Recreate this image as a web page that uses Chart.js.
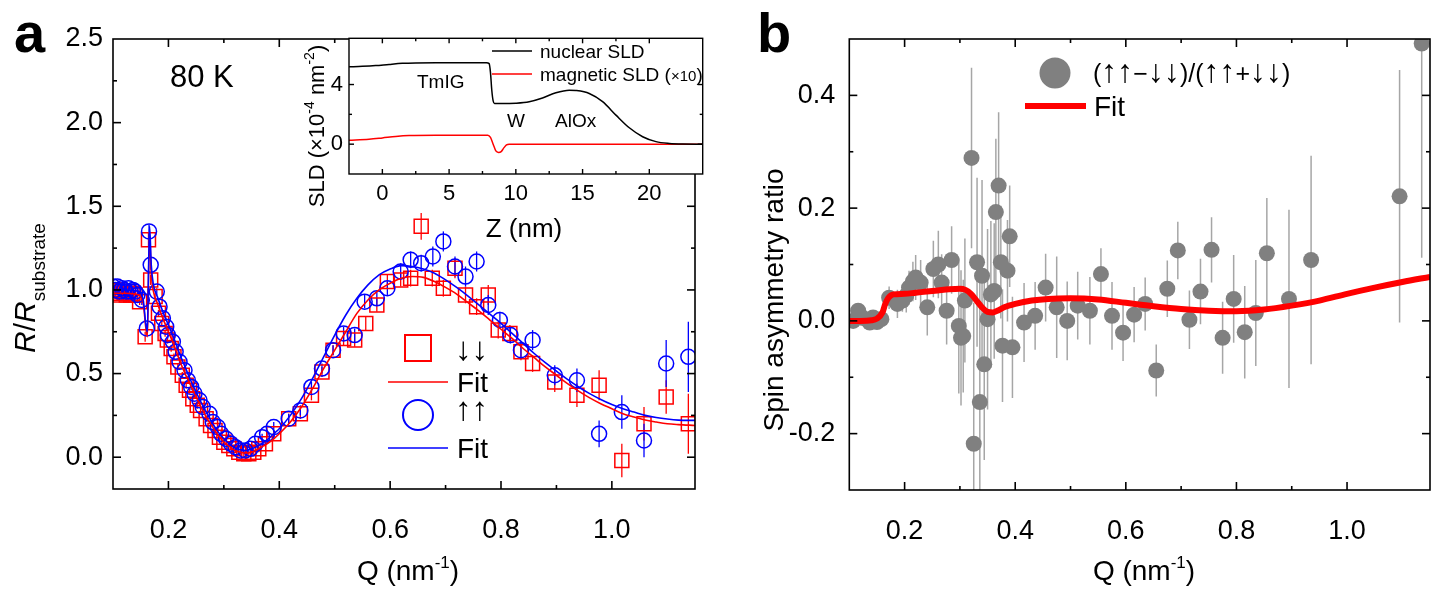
<!DOCTYPE html>
<html lang="en">
<head>
<meta charset="UTF-8">
<title>PNR of TmIG/W/AlOx at 80 K</title>
<script src="https://cdn.jsdelivr.net/npm/chart.js"></script>
<style>
  body { margin: 0; background: #fff; }
  #wrap { position: relative; width: 1455px; height: 594px; overflow: hidden; background: #fff; }
  canvas { position: absolute; }
</style>
</head>
<body>
<div id="wrap">
  <canvas id="chartA" width="720" height="594" style="left:0;top:0;width:720px;height:594px"></canvas>
  <canvas id="chartB" width="725" height="594" style="left:730px;top:0;width:725px;height:594px"></canvas>
  <canvas id="inset" width="420" height="232" style="left:290px;top:18px;width:420px;height:232px"></canvas>
</div>
<script>
// ---- panel a: R/R_substrate vs Q ----
const qDown = [0.100,0.104,0.108,0.112,0.116,0.120,0.124,0.128,0.132,0.136,0.140,0.148,0.158,0.164,0.168,
  0.176,0.182,0.188,0.194,0.198,0.205,0.210,0.217,0.225,0.232,0.238,0.244,0.252,0.258,0.268,0.276,0.284,0.292,
  0.300,0.309,0.318,0.327,0.336,0.345,0.354,0.363,0.375,0.390,0.417,0.438,0.458,0.477,0.497,0.516,0.536,0.556,
  0.576,0.595,0.619,0.637,0.656,0.676,0.696,0.717,0.736,0.756,0.777,0.795,0.816,0.836,0.857,0.897,0.937,0.977,
  1.018,1.058,1.098,1.138];
const rDown = [1.00,0.98,1.00,0.97,0.99,0.98,0.97,0.99,0.97,0.98,0.97,0.93,0.72,1.30,1.06,
  0.96,0.86,0.80,0.74,0.70,0.65,0.60,0.54,0.49,0.43,0.40,0.35,0.31,0.28,0.23,0.19,0.16,0.12,
  0.09,0.07,0.05,0.03,0.02,0.02,0.03,0.05,0.08,0.14,0.23,0.26,0.37,0.51,0.64,0.71,0.70,0.80,
  0.91,1.05,1.06,1.07,1.38,1.07,1.01,1.13,0.97,0.90,0.97,0.76,0.74,0.63,0.56,0.45,0.37,0.43,
  -0.02,0.20,0.36,0.20];
const eDown = [0.02,0.02,0.02,0.02,0.02,0.02,0.02,0.02,0.02,0.02,0.02,0.02,0.03,0.04,0.03,
  0.02,0.02,0.02,0.02,0.02,0.02,0.02,0.02,0.02,0.02,0.02,0.02,0.02,0.02,0.02,0.02,0.02,0.02,
  0.02,0.02,0.02,0.02,0.02,0.02,0.02,0.02,0.02,0.02,0.03,0.03,0.03,0.03,0.03,0.04,0.04,0.04,
  0.04,0.04,0.04,0.05,0.08,0.05,0.05,0.06,0.05,0.05,0.06,0.05,0.05,0.05,0.05,0.06,0.07,0.09,
  0.10,0.10,0.10,0.18];

const qUp = [0.100,0.104,0.108,0.112,0.116,0.120,0.124,0.128,0.132,0.136,0.140,0.144,0.152,0.161,0.165,0.168,
  0.179,0.184,0.190,0.196,0.199,0.208,0.213,0.220,0.229,0.235,0.241,0.247,0.256,0.262,0.274,0.280,0.289,0.295,
  0.304,0.313,0.321,0.330,0.339,0.348,0.357,0.369,0.378,0.390,0.417,0.438,0.458,0.477,0.497,0.516,0.536,0.554,
  0.576,0.595,0.619,0.637,0.656,0.677,0.696,0.717,0.736,0.756,0.777,0.798,0.817,0.836,0.857,0.897,0.937,0.977,
  1.018,1.058,1.098,1.138];
const rUp = [1.02,1.00,1.02,0.99,1.01,1.00,0.99,1.01,0.99,1.00,0.99,0.97,0.94,0.77,1.35,1.15,
  0.99,0.90,0.83,0.78,0.73,0.69,0.63,0.57,0.52,0.46,0.42,0.38,0.34,0.30,0.26,0.21,0.18,0.14,
  0.11,0.08,0.06,0.04,0.04,0.05,0.08,0.12,0.14,0.18,0.23,0.28,0.42,0.53,0.64,0.74,0.73,0.93,
  0.95,1.01,1.11,1.18,1.16,1.20,1.29,1.14,1.08,1.17,0.91,0.82,0.73,0.64,0.70,0.49,0.46,0.14,
  0.27,0.10,0.56,0.60];
const eUp = [0.02,0.02,0.02,0.02,0.02,0.02,0.02,0.02,0.02,0.02,0.02,0.02,0.03,0.03,0.04,0.03,
  0.02,0.02,0.02,0.02,0.02,0.02,0.02,0.02,0.02,0.02,0.02,0.02,0.02,0.02,0.02,0.02,0.02,0.02,
  0.02,0.02,0.02,0.02,0.02,0.02,0.02,0.02,0.02,0.03,0.03,0.03,0.03,0.03,0.03,0.04,0.04,0.04,
  0.04,0.04,0.05,0.05,0.05,0.06,0.06,0.06,0.06,0.06,0.06,0.05,0.05,0.05,0.06,0.06,0.07,0.08,
  0.10,0.10,0.14,0.21];

const qFit = [0.100,0.120,0.140,0.150,0.155,0.159,0.162,0.164,0.166,0.169,0.173,0.180,0.190,0.200,0.210,
  0.220,0.230,0.240,0.250,0.260,0.270,0.280,0.290,0.300,0.310,0.320,0.330,0.340,0.350,0.360,0.370,0.380,
  0.390,0.400,0.420,0.440,0.460,0.480,0.500,0.520,0.540,0.560,0.580,0.600,0.620,0.640,0.660,0.680,0.700,
  0.720,0.740,0.760,0.780,0.800,0.820,0.840,0.860,0.880,0.900,0.920,0.940,0.960,0.980,1.000,1.020,1.040,
  1.060,1.080,1.100,1.120,1.150];
const rFitDown = [0.98,0.98,0.975,0.96,0.91,0.78,0.72,1.05,1.33,1.10,0.99,0.92,0.83,0.75,0.67,
  0.58,0.50,0.43,0.36,0.29,0.23,0.18,0.13,0.09,0.065,0.04,0.03,0.025,0.03,0.045,0.065,0.085,
  0.11,0.14,0.21,0.30,0.41,0.53,0.64,0.75,0.86,0.94,1.00,1.04,1.07,1.08,1.075,1.05,1.015,
  0.975,0.925,0.875,0.82,0.765,0.71,0.65,0.595,0.54,0.49,0.44,0.395,0.355,0.32,0.29,0.26,0.24,
  0.222,0.21,0.20,0.195,0.19];
const rFitUp = [1.00,1.00,0.995,0.98,0.93,0.80,0.75,1.10,1.38,1.15,1.03,0.96,0.87,0.79,0.71,
  0.62,0.54,0.46,0.39,0.32,0.26,0.20,0.15,0.11,0.08,0.055,0.045,0.04,0.05,0.065,0.085,0.11,
  0.14,0.17,0.25,0.35,0.47,0.60,0.73,0.85,0.95,1.03,1.09,1.125,1.145,1.14,1.125,1.10,1.06,
  1.015,0.965,0.91,0.855,0.80,0.74,0.68,0.62,0.565,0.515,0.465,0.42,0.38,0.345,0.315,0.29,0.27,
  0.25,0.237,0.228,0.222,0.22];

// ---- inset: SLD depth profile ----
const zNuc = [-2.5,-1.5,-0.5,0.5,1.5,2.5,4,6,7.8,8.0,8.1,8.2,8.3,8.4,9,10,11,12,13,14,14.5,15.5,16.5,17.5,18.5,19.5,20.5,21.5,22.5,24];
const sldNuc = [5.19,5.22,5.27,5.35,5.42,5.45,5.46,5.46,5.46,5.40,4.80,3.60,2.90,2.72,2.72,2.75,2.85,3.10,3.45,3.62,3.60,3.40,2.85,1.95,1.10,0.50,0.17,0.05,0.01,0.00];
const zMag = [-2.5,-1,0,1,2,4,7.9,8.1,8.3,8.5,8.7,8.9,9.1,9.3,9.5,24];
const sldMag = [0.27,0.33,0.42,0.52,0.58,0.60,0.60,0.45,0.0,-0.45,-0.55,-0.50,-0.25,-0.05,0.0,0.0];

// ---- panel b: spin asymmetry ----
const qAsym = [0.107,0.116,0.125,0.137,0.143,0.150,0.158,0.172,0.187,0.196,0.203,0.208,0.215,0.220,0.229,
  0.241,0.252,0.261,0.267,0.276,0.285,0.298,0.302,0.306,0.309,0.321,0.325,0.331,0.336,0.340,0.344,0.350,
  0.356,0.362,0.365,0.370,0.374,0.377,0.386,0.390,0.395,0.416,0.436,0.455,0.475,0.494,0.513,0.535,0.555,
  0.575,0.595,0.615,0.635,0.655,0.675,0.694,0.715,0.735,0.755,0.775,0.795,0.815,0.835,0.855,0.895,0.935,
  1.095,1.135];
const sAsym = [0.000,0.018,0.005,-0.003,0.006,-0.002,0.003,0.041,0.030,0.036,0.045,0.059,0.070,0.077,0.068,
  0.024,0.092,0.100,0.068,0.018,0.108,-0.009,-0.030,-0.027,0.036,0.289,-0.218,0.104,-0.144,0.080,-0.077,0.003,
  0.047,0.053,0.193,0.240,0.104,-0.044,0.089,0.150,-0.047,-0.003,0.009,0.059,0.024,0.000,0.027,0.018,0.083,
  0.009,-0.021,0.011,0.030,-0.088,0.057,0.125,0.002,0.052,0.126,-0.030,0.039,-0.020,0.014,0.120,0.039,0.108,
  0.221,0.492];
const eAsym = [0.010,0.012,0.010,0.010,0.012,0.012,0.015,0.020,0.025,0.020,0.030,0.030,0.035,0.040,0.040,
  0.050,0.050,0.060,0.050,0.060,0.060,0.120,0.120,0.100,0.110,0.160,0.250,0.150,0.220,0.170,0.170,0.160,
  0.130,0.120,0.130,0.130,0.100,0.100,0.090,0.090,0.090,0.070,0.060,0.060,0.090,0.070,0.060,0.060,0.046,
  0.060,0.050,0.049,0.047,0.046,0.050,0.051,0.052,0.058,0.058,0.064,0.078,0.082,0.094,0.098,0.158,0.185,
  0.224,0.380];
const qFitAsym = [0.10,0.12,0.14,0.150,0.160,0.165,0.170,0.175,0.180,0.20,0.22,0.24,0.26,0.28,0.30,0.31,0.32,
  0.33,0.34,0.35,0.36,0.37,0.38,0.40,0.43,0.46,0.50,0.55,0.60,0.65,0.70,0.75,0.80,0.85,0.90,0.95,1.00,1.05,1.10,1.15];
const sFitAsym = [0.000,0.000,0.001,0.004,0.015,0.030,0.040,0.045,0.047,0.048,0.050,0.052,0.054,0.056,0.057,
  0.055,0.048,0.036,0.024,0.016,0.015,0.019,0.024,0.030,0.036,0.039,0.040,0.038,0.032,0.026,0.021,0.018,
  0.017,0.020,0.027,0.036,0.048,0.059,0.069,0.078];

// tick labels
const qTickLabels = ['0.2', '0.4', '0.6', '0.8', '1.0'];
const rTickLabels = ['0.0', '0.5', '1.0', '1.5', '2.0', '2.5'];
const asymTickLabels = ['-0.2', '0.0', '0.2', '0.4'];
const zTickLabels = ['0', '5', '10', '15', '20'];
const sldTickLabels = ['0', '4'];

const pts = (xs, ys) => xs.map((x, i) => ({ x: x, y: ys[i] }));

Chart.defaults.animation = false;
Chart.defaults.color = '#000';
Chart.defaults.font.family = 'Arial, "Liberation Sans", sans-serif';

const FONT = 'Arial, "Liberation Sans", sans-serif';
const tickFont = { family: FONT, size: 27 };

function pick(list, digits) {
  return v => {
    const s = digits == null ? String(Math.round(v * 100) / 100) : v.toFixed(digits);
    return list.includes(s) ? s : '';
  };
}

// vertical error bars, drawn under the markers
const errorBars = {
  id: 'errorBars',
  beforeDatasetsDraw(chart) {
    const { ctx, chartArea: a, scales: { x, y } } = chart;
    ctx.save();
    ctx.beginPath();
    ctx.rect(a.left, a.top, a.right - a.left, a.bottom - a.top);
    ctx.clip();
    chart.data.datasets.forEach(ds => {
      if (!ds.err) return;
      ctx.strokeStyle = ds.errColor || ds.borderColor;
      ctx.lineWidth = ds.errWidth || 1.3;
      ds.data.forEach((p, i) => {
        const px = x.getPixelForValue(p.x);
        ctx.beginPath();
        ctx.moveTo(px, y.getPixelForValue(p.y - ds.err[i]));
        ctx.lineTo(px, y.getPixelForValue(p.y + ds.err[i]));
        ctx.stroke();
      });
    });
    ctx.restore();
  }
};

// closed box with inward ticks on all four sides
function frame(major, minor, lw) {
  return {
    id: 'frame',
    beforeDraw(chart) {
      if (!chart.options.whiteArea) return;
      const { ctx, chartArea: a } = chart;
      ctx.save();
      ctx.fillStyle = '#fff';
      ctx.fillRect(a.left, a.top, a.right - a.left, a.bottom - a.top);
      ctx.restore();
    },
    afterDatasetsDraw(chart) {
      const { ctx, chartArea: a, scales: { x, y } } = chart;
      ctx.save();
      ctx.strokeStyle = '#000';
      ctx.lineWidth = lw;
      const seg = (x1, y1, x2, y2) => { ctx.beginPath(); ctx.moveTo(x1, y1); ctx.lineTo(x2, y2); ctx.stroke(); };
      x.ticks.forEach(t => {
        const px = x.getPixelForValue(t.value);
        if (px < a.left + 1 || px > a.right - 1) return;
        const len = t.label ? major : minor;
        seg(px, a.bottom, px, a.bottom - len);
        seg(px, a.top, px, a.top + len);
      });
      y.ticks.forEach(t => {
        const py = y.getPixelForValue(t.value);
        if (py < a.top + 1 || py > a.bottom - 1) return;
        const len = t.label ? major : minor;
        seg(a.left, py, a.left + len, py);
        seg(a.right, py, a.right - len, py);
      });
      ctx.strokeRect(a.left, a.top, a.right - a.left, a.bottom - a.top);
      ctx.restore();
    }
  };
}

// text made of pieces with their own font and baseline shift, centred on (x, y) unless left
function richText(ctx, parts, x, y, rotate, left) {
  ctx.save();
  ctx.translate(x, y);
  if (rotate) ctx.rotate(-Math.PI / 2);
  ctx.textAlign = 'left';
  ctx.textBaseline = 'alphabetic';
  let w = 0;
  parts.forEach(p => { ctx.font = p[1]; w += ctx.measureText(p[0]).width; });
  let cx = left ? 0 : -w / 2;
  parts.forEach(p => {
    ctx.font = p[1];
    ctx.fillText(p[0], cx, p[2] || 0);
    cx += ctx.measureText(p[0]).width;
  });
  ctx.restore();
}

function axisOpts(min, max, step, labels, digits, size, pad, font) {
  return {
    type: 'linear', min: min, max: max,
    afterFit: s => { if (s.isHorizontal()) s.height = size; else s.width = size; },
    grid: { display: false, drawTicks: false },
    border: { display: false },
    ticks: { stepSize: step, padding: pad, font: font, autoSkip: false, maxRotation: 0, callback: pick(labels, digits) }
  };
}

// ---------- panel a ----------
const decorA = {
  id: 'decorA',
  afterDraw(chart) {
    const ctx = chart.ctx;
    ctx.save();
    ctx.fillStyle = '#000';
    ctx.textAlign = 'left';
    ctx.textBaseline = 'alphabetic';
    ctx.font = 'bold 56px ' + FONT;
    ctx.fillText('a', 14, 52);
    ctx.font = '31px ' + FONT;
    ctx.fillText('80 K', 170, 87);

    // legend
    ctx.lineWidth = 2;
    ctx.strokeStyle = '#ff0000';
    ctx.strokeRect(405, 335, 26, 26);
    ctx.lineWidth = 1.5;
    ctx.beginPath(); ctx.moveTo(388, 382); ctx.lineTo(448, 382); ctx.stroke();
    ctx.strokeStyle = '#0000ff';
    ctx.lineWidth = 2;
    ctx.beginPath(); ctx.arc(418, 415, 15, 0, Math.PI * 2); ctx.stroke();
    ctx.lineWidth = 1.5;
    ctx.beginPath(); ctx.moveTo(388, 448); ctx.lineTo(448, 448); ctx.stroke();
    ctx.font = '33px ' + FONT;
    ctx.fillText('↓↓', 455, 360);
    ctx.fillText('↑↑', 455, 420);
    ctx.font = '28px ' + FONT;
    ctx.fillText('Fit', 457, 392);
    ctx.fillText('Fit', 457, 458);

    // axis titles
    richText(ctx, [['Q (nm', '28px ' + FONT], ['-1', '17px ' + FONT, -12], [')', '28px ' + FONT]], 408, 580, false);
    richText(ctx, [['R', 'italic 30px ' + FONT], ['/', '30px ' + FONT], ['R', 'italic 30px ' + FONT],
      ['substrate', '19px ' + FONT, 10]], 35, 288, true);
    ctx.restore();
  }
};

new Chart(document.getElementById('chartA'), {
  type: 'scatter',
  data: {
    datasets: [
      { label: '↓↓', data: pts(qDown, rDown), err: eDown, pointStyle: 'rect', pointRadius: 9.9, order: 3,
        borderColor: '#ff0000', backgroundColor: 'rgba(0,0,0,0)', borderWidth: 1.5, clip: 0 },
      { label: '↑↑', data: pts(qUp, rUp), err: eUp, pointStyle: 'circle', pointRadius: 7.5, order: 2,
        borderColor: '#0000ff', backgroundColor: 'rgba(0,0,0,0)', borderWidth: 1.5, clip: 0 },
      { label: 'Fit', data: pts(qFit, rFitDown), showLine: true, pointRadius: 0, borderColor: '#ff0000', order: 1,
        borderWidth: 1.6, cubicInterpolationMode: 'monotone', clip: 0 },
      { label: 'Fit', data: pts(qFit, rFitUp), showLine: true, pointRadius: 0, borderColor: '#0000ff', order: 0,
        borderWidth: 1.6, cubicInterpolationMode: 'monotone', clip: 0 }
    ]
  },
  options: {
    responsive: false,
    layout: { padding: { top: 39, right: 17, left: 0, bottom: 0 } },
    plugins: { legend: { display: false }, tooltip: { enabled: false } },
    scales: {
      x: axisOpts(0.1, 1.15, 0.1, qTickLabels, 1, 105, 25, tickFont),
      y: axisOpts(-0.19, 2.5, 0.25, rTickLabels, 1, 113, 10, tickFont)
    }
  },
  plugins: [errorBars, frame(8, 4, 1.6), decorA]
});

// ---------- inset ----------
const decorInset = {
  id: 'decorInset',
  afterDraw(chart) {
    const ctx = chart.ctx;
    ctx.save();
    ctx.translate(-290, -18);
    ctx.fillStyle = '#000';
    ctx.textAlign = 'left';
    ctx.textBaseline = 'alphabetic';
    ctx.lineWidth = 1.5;
    ctx.strokeStyle = '#000';
    ctx.beginPath(); ctx.moveTo(492, 51); ctx.lineTo(532, 51); ctx.stroke();
    ctx.strokeStyle = '#ff0000';
    ctx.beginPath(); ctx.moveTo(492, 74); ctx.lineTo(532, 74); ctx.stroke();
    ctx.font = '19px ' + FONT;
    ctx.fillText('nuclear SLD', 540, 58);
    ctx.fillText('magnetic SLD (', 540, 81);
    let w = ctx.measureText('magnetic SLD (').width;
    ctx.font = '15px ' + FONT;
    ctx.fillText('×10', 540 + w, 81);
    w += ctx.measureText('×10').width;
    ctx.font = '19px ' + FONT;
    ctx.fillText(')', 540 + w, 81);

    ctx.fillText('TmIG', 417, 88);
    ctx.fillText('W', 507, 127);
    ctx.fillText('AlOx', 555, 127);

    richText(ctx, [['Z (nm)', '26px ' + FONT]], 524, 237, false);
    richText(ctx, [['SLD (×10', '22px ' + FONT], ['-4', '14px ' + FONT, -10], [' nm', '22px ' + FONT],
      ['-2', '14px ' + FONT, -10], [')', '22px ' + FONT]], 324, 126, true);
    ctx.restore();
  }
};

new Chart(document.getElementById('inset'), {
  type: 'scatter',
  data: {
    datasets: [
      { label: 'nuclear SLD', data: pts(zNuc, sldNuc), showLine: true, pointRadius: 0, borderColor: '#000',
        borderWidth: 1.5, cubicInterpolationMode: 'monotone', clip: 0 },
      { label: 'magnetic SLD (×10)', data: pts(zMag, sldMag), showLine: true, pointRadius: 0, borderColor: '#ff0000',
        borderWidth: 1.5, cubicInterpolationMode: 'monotone', clip: 0 }
    ]
  },
  options: {
    responsive: false,
    whiteArea: true,
    layout: { padding: { top: 20.3, right: 7.3, left: 0, bottom: 0 } },
    plugins: { legend: { display: false }, tooltip: { enabled: false } },
    scales: {
      x: axisOpts(-2.5, 24, 2.5, zTickLabels, null, 76, 7, { family: FONT, size: 22 }),
      y: axisOpts(-2, 7.1, 2, sldTickLabels, null, 59, 6, { family: FONT, size: 22 })
    }
  },
  plugins: [frame(5, 3, 1.4), decorInset]
});

// ---------- panel b ----------
const decorB = {
  id: 'decorB',
  afterDraw(chart) {
    const ctx = chart.ctx;
    ctx.save();
    ctx.translate(-730, 0);
    ctx.fillStyle = '#000';
    ctx.textAlign = 'left';
    ctx.textBaseline = 'alphabetic';
    ctx.font = 'bold 56px ' + FONT;
    ctx.fillText('b', 757, 52);

    ctx.fillStyle = '#808080';
    ctx.beginPath(); ctx.arc(1055, 73, 15.5, 0, Math.PI * 2); ctx.fill();
    ctx.strokeStyle = '#ff0000';
    ctx.lineWidth = 6;
    ctx.beginPath(); ctx.moveTo(1025, 106); ctx.lineTo(1086, 106); ctx.stroke();
    ctx.fillStyle = '#000';
    const p = '25px ' + FONT, ar = '32px ' + FONT;
    richText(ctx, [['(', p], ['↑↑', ar], ['−', p], ['↓↓', ar], [')/(', p], ['↑↑', ar], ['+', p], ['↓↓', ar], [')', p]],
      1093, 82, false, true);
    ctx.font = '28px ' + FONT;
    ctx.fillText('Fit', 1094, 116);

    richText(ctx, [['Q (nm', '28px ' + FONT], ['-1', '17px ' + FONT, -12], [')', '28px ' + FONT]], 1144, 580, false);
    richText(ctx, [['Spin asymmetry ratio', '28px ' + FONT]], 783, 300, true);
    ctx.restore();
  }
};

new Chart(document.getElementById('chartB'), {
  type: 'scatter',
  data: {
    datasets: [
      { label: '(↑↑−↓↓)/(↑↑+↓↓)', data: pts(qAsym, sAsym), err: eAsym, errColor: '#a6a6a6', errWidth: 1.5, order: 1,
        pointStyle: 'circle', pointRadius: 8, borderWidth: 0, backgroundColor: '#808080', borderColor: '#808080', clip: 0 },
      { label: 'Fit', data: pts(qFitAsym, sFitAsym), showLine: true, pointRadius: 0, borderColor: '#ff0000', order: 0,
        borderWidth: 6, cubicInterpolationMode: 'monotone', clip: 0 }
    ]
  },
  options: {
    responsive: false,
    layout: { padding: { top: 39, right: 15.7, left: 0, bottom: 0 } },
    plugins: { legend: { display: false }, tooltip: { enabled: false } },
    scales: {
      x: axisOpts(0.1, 1.15, 0.1, qTickLabels, 1, 104, 25, tickFont),
      y: axisOpts(-0.3, 0.5, 0.1, asymTickLabels, 1, 119.3, 14, tickFont)
    }
  },
  plugins: [errorBars, frame(8, 4, 1.6), decorB]
});
</script>
</body>
</html>
